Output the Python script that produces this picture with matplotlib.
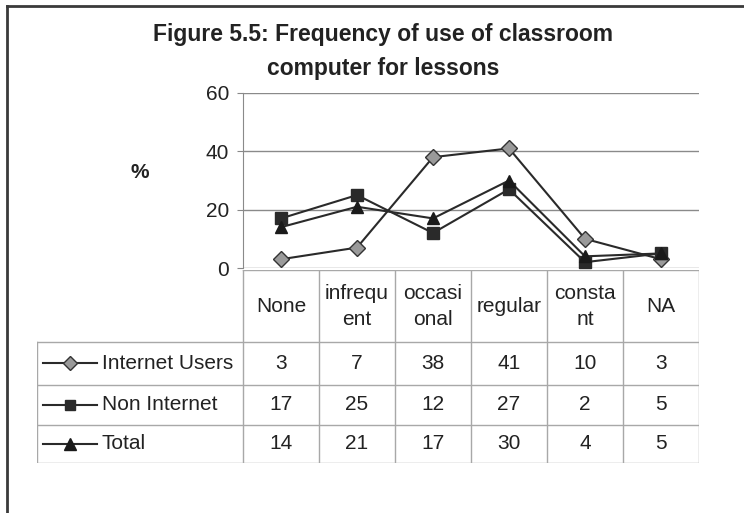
import matplotlib
matplotlib.use("Agg")
from matplotlib import pyplot as plt
from matplotlib.lines import Line2D

plt.rcParams['font.family'] = ['Liberation Sans', 'DejaVu Sans']

categories = ['None', 'infrequ\nent', 'occasi\nonal', 'regular', 'consta\nnt', 'NA']
internet_users = [3, 7, 38, 41, 10, 3]
non_internet = [17, 25, 12, 27, 2, 5]
total = [14, 21, 17, 30, 4, 5]
series_names = ['Internet Users', 'Non Internet', 'Total']
yticks = [0, 20, 40, 60]

W, H = 744, 513
fig = plt.figure(figsize=(W / 100, H / 100), dpi=100)
fig.patch.set_facecolor('white')

# border of the original picture (only top and left visible)
fig.add_artist(Line2D([7 / W, 1], [1 - 6 / H, 1 - 6 / H], transform=fig.transFigure, color='#3a3a3a', lw=2))
fig.add_artist(Line2D([7 / W, 7 / W], [0, 1 - 6 / H], transform=fig.transFigure, color='#3a3a3a', lw=2))

fig.text(383 / W, 1 - 35 / H, 'Figure 5.5: Frequency of use of classroom', ha='center', va='center',
         fontsize=16.5, fontweight='bold', color='#222222')
fig.text(383 / W, 1 - 68 / H, 'computer for lessons', ha='center', va='center',
         fontsize=16.5, fontweight='bold', color='#222222')
fig.text(140 / W, 1 - 172 / H, '%', ha='center', va='center', fontsize=15, fontweight='bold',
         color='#222222')

# line chart
ax = fig.add_axes([243 / W, (H - 268) / H, 456 / W, (268 - 93) / H])
x = list(range(len(categories)))
styles = [
    dict(marker='D', markersize=8, markerfacecolor='#9a9a9a', markeredgecolor='#333333'),
    dict(marker='s', markersize=8, markerfacecolor='#2a2a2a', markeredgecolor='#2a2a2a'),
    dict(marker='^', markersize=9, markerfacecolor='#1a1a1a', markeredgecolor='#1a1a1a'),
]
all_series = [internet_users, non_internet, total]
for vals, st in zip(all_series, styles):
    ax.plot(x, vals, color='#2a2a2a', lw=1.5, clip_on=False, zorder=3, **st)
ax.set_xlim(-0.5, len(categories) - 0.5)
ax.set_ylim(0, 60)
ax.set_yticks(yticks)
ax.set_xticks([])
ax.tick_params(axis='y', length=4, color='#888888', labelsize=15, labelcolor='#222222', pad=6)
ax.yaxis.grid(True, color='#8a8a8a', lw=1)
for side in ['top', 'right', 'bottom']:
    ax.spines[side].set_visible(False)
ax.spines['left'].set_color('#8a8a8a')
ax.set_facecolor('none')

# data table below the chart
lab_w = (243 - 37) / 76
tab = fig.add_axes([37 / W, (H - 463) / H, 662 / W, (463 - 270) / H])
tab.set_xlim(-0.5 - lab_w, len(categories) - 0.5)
row_edges = [0, 1.8, 2.85, 3.85, 4.8]
tab.set_ylim(row_edges[-1], 0)
tab.axis('off')
gc = '#a8a8a8'
tab.plot([-0.5, len(categories) - 0.5], [0, 0], color=gc, lw=1)
for yy in row_edges[1:]:
    tab.plot([-0.5 - lab_w, len(categories) - 0.5], [yy, yy], color=gc, lw=1)
for i in range(len(categories) + 1):
    tab.plot([i - 0.5, i - 0.5], [0, row_edges[-1]], color=gc, lw=1)
tab.plot([-0.5 - lab_w, -0.5 - lab_w], [row_edges[1], row_edges[-1]], color=gc, lw=1)

for i, cat in enumerate(categories):
    tab.text(i, row_edges[1] / 2, cat, ha='center', va='center', fontsize=15,
             color='#222222', linespacing=1.45)

for r, (name, vals, st) in enumerate(zip(series_names, all_series, styles)):
    yc = (row_edges[r + 1] + row_edges[r + 2]) / 2
    x0 = -0.5 - (243 - 43) / 76
    x1 = -0.5 - (243 - 97) / 76
    tab.plot([x0, x1], [yc, yc], color='#2a2a2a', lw=1.5)
    tab.plot([(x0 + x1) / 2], [yc], **{**st, 'markersize': st['markersize'] - 1})
    tab.text(-0.5 - (243 - 102) / 76, yc, name, ha='left', va='center', fontsize=15, color='#222222')
    for i, v in enumerate(vals):
        tab.text(i, yc, str(v), ha='center', va='center', fontsize=15, color='#222222')

fig.savefig('out.png', dpi=100)
